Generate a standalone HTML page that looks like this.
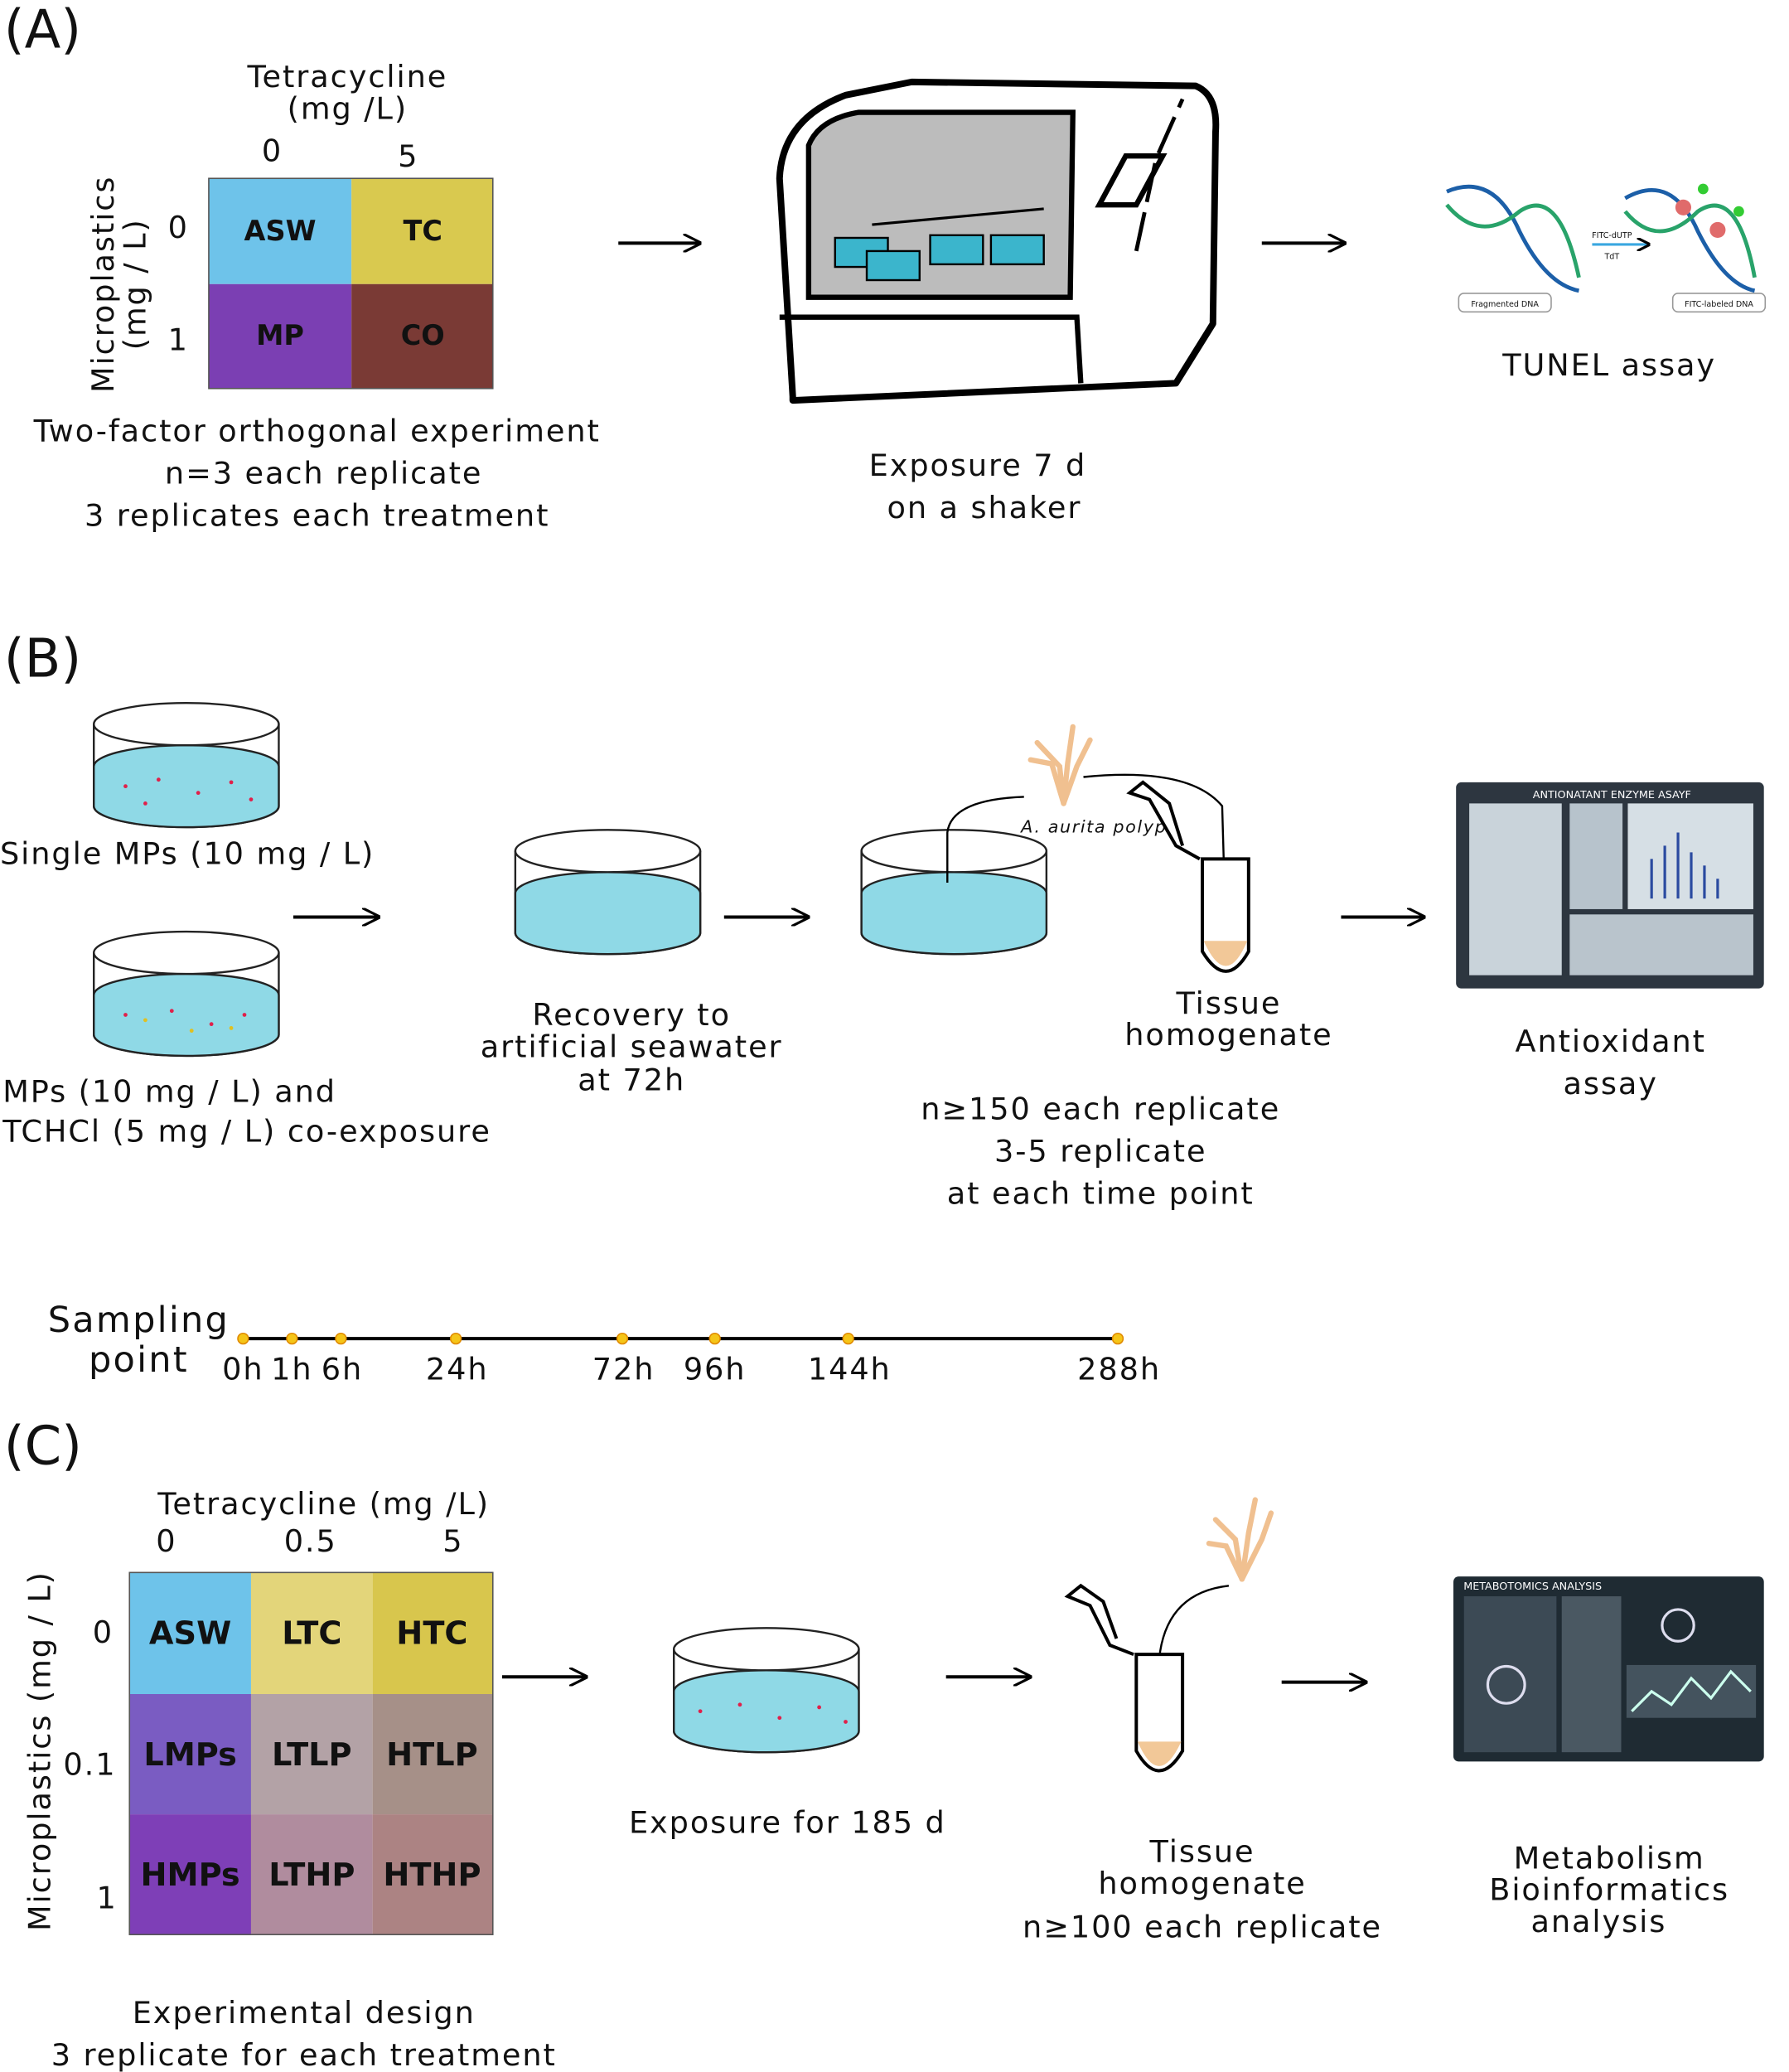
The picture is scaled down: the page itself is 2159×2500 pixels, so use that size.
<!DOCTYPE html>
<html><head><meta charset="utf-8"><style>
html,body{margin:0;padding:0;background:#fff}
svg{display:block}
text{font-family:"DejaVu Sans","Liberation Sans",sans-serif;fill:#111}
.t{font-size:23px;letter-spacing:1.2px;text-anchor:middle}
.b{font-weight:bold;text-anchor:middle;font-size:21px}
.bc{font-weight:bold;text-anchor:middle;font-size:24px}
.h{font-size:40px}
</style></head><body>
<svg width="2159" height="2500" viewBox="0 0 1354 1568" preserveAspectRatio="none" xmlns="http://www.w3.org/2000/svg">
<defs>
<marker id="ar" markerWidth="10" markerHeight="10" refX="9" refY="5" orient="auto" markerUnits="userSpaceOnUse"><path d="M0,0 L10,5 L0,10" fill="none" stroke="#000" stroke-width="2"/></marker>
<marker id="ar2" markerWidth="14" markerHeight="14" refX="13" refY="7" orient="auto" markerUnits="userSpaceOnUse"><path d="M0,0 L14,7 L0,14" fill="none" stroke="#000" stroke-width="2"/></marker>
</defs>

<!-- (A) -->
<text x="3" y="36" class="h">(A)</text>
<text x="263" y="66" class="t">Tetracycline</text>
<text x="263" y="90" class="t">(mg /L)</text>
<text x="206" y="122" class="t">0</text>
<text x="309" y="126" class="t">5</text>
<rect x="158" y="135" width="108" height="80" fill="#6ec3ea"/>
<rect x="266" y="135" width="107" height="80" fill="#d9c94f"/>
<rect x="158" y="215" width="108" height="79" fill="#7b3fb3"/>
<rect x="266" y="215" width="107" height="79" fill="#7a3a35"/>
<rect x="158" y="135" width="215" height="159" fill="none" stroke="#555" stroke-width="1"/>
<text x="212" y="182" class="b">ASW</text>
<text x="320" y="182" class="b">TC</text>
<text x="212" y="261" class="b">MP</text>
<text x="320" y="261" class="b">CO</text>
<text transform="translate(86,215) rotate(-90)" class="t">Microplastics</text>
<text transform="translate(110,215) rotate(-90)" class="t">(mg / L)</text>
<text x="135" y="180" class="t">0</text>
<text x="135" y="265" class="t">1</text>
<text x="240" y="334" class="t">Two-factor orthogonal experiment</text>
<text x="245" y="366" class="t">n=3 each replicate</text>
<text x="240" y="398" class="t">3 replicates each treatment</text>
<line x1="468" y1="184" x2="530" y2="184" stroke="#000" stroke-width="2.5" marker-end="url(#ar2)"/>

<!-- shaker -->
<path d="M600,300 L590,135 Q592,90 640,72 L690,62 L905,65 Q922,72 920,100 L918,245 L890,290 L600,303 Z" fill="#fff" stroke="#000" stroke-width="5" stroke-linejoin="round"/>
<path d="M590,240 L815,240 L818,290" fill="none" stroke="#000" stroke-width="4"/>
<path d="M612,225 L612,110 Q620,90 650,85 L812,85 L810,225 Z" fill="#bcbcbc" stroke="#000" stroke-width="4"/>
<path d="M832,155 L852,118 L880,118 L860,155 Z" fill="none" stroke="#000" stroke-width="4"/>
<path d="M860,190 L875,120 L895,75" fill="none" stroke="#000" stroke-width="3" stroke-dasharray="30,8"/>
<g stroke="#000" stroke-width="1.5">
<rect x="632" y="180" width="40" height="22" fill="#3bb5cc"/><rect x="656" y="190" width="40" height="22" fill="#3bb5cc"/>
<rect x="704" y="178" width="40" height="22" fill="#3bb5cc"/><rect x="750" y="178" width="40" height="22" fill="#3bb5cc"/>
</g>
<line x1="660" y1="170" x2="790" y2="158" stroke="#000" stroke-width="2"/>
<text x="740" y="360" class="t">Exposure 7 d</text>
<text x="745" y="392" class="t">on a shaker</text>
<line x1="955" y1="184" x2="1018" y2="184" stroke="#000" stroke-width="2.5" marker-end="url(#ar2)"/>

<!-- TUNEL -->
<path d="M1095,145 Q1130,130 1150,175 Q1170,215 1195,220" fill="none" stroke="#1c5fa8" stroke-width="3"/>
<path d="M1095,155 Q1120,185 1150,160 Q1180,140 1195,210" fill="none" stroke="#29a36a" stroke-width="3"/>
<path d="M1230,150 Q1265,130 1285,175 Q1305,215 1328,220" fill="none" stroke="#1c5fa8" stroke-width="3"/>
<path d="M1230,160 Q1255,190 1285,160 Q1315,140 1328,210" fill="none" stroke="#29a36a" stroke-width="3"/>
<circle cx="1274" cy="157" r="6" fill="#e06b6b"/><circle cx="1300" cy="174" r="6" fill="#e06b6b"/>
<circle cx="1289" cy="143" r="4" fill="#3c3"/><circle cx="1316" cy="160" r="4" fill="#3c3"/>
<line x1="1205" y1="185" x2="1248" y2="185" stroke="#3aa7e0" stroke-width="2" marker-end="url(#ar)"/>
<text x="1220" y="180" font-size="6" text-anchor="middle">FITC-dUTP</text>
<text x="1220" y="196" font-size="6" text-anchor="middle">TdT</text>
<rect x="1104" y="222" width="70" height="14" rx="4" fill="#fff" stroke="#999"/>
<text x="1139" y="232" font-size="6" text-anchor="middle">Fragmented DNA</text>
<rect x="1266" y="222" width="70" height="14" rx="4" fill="#fff" stroke="#999"/>
<text x="1301" y="232" font-size="6" text-anchor="middle">FITC-labeled DNA</text>
<text x="1218" y="284" class="t">TUNEL assay</text>

<!-- (B) -->
<text x="3" y="512" class="h">(B)</text>
<g id="dish">
<path d="M71,548 L71,610 A70,16 0 0 0 211,610 L211,548" fill="#fff" stroke="#222" stroke-width="1.5"/>
<path d="M71,580 A70,16 0 0 1 211,580 L211,610 A70,16 0 0 1 71,610 Z" fill="#8fd9e6" stroke="#222" stroke-width="1.5"/>
<ellipse cx="141" cy="548" rx="70" ry="16" fill="#fff" stroke="#222" stroke-width="1.5"/>
</g>
<g fill="#e0204a"><circle cx="95" cy="595" r="1.5"/><circle cx="120" cy="590" r="1.5"/><circle cx="150" cy="600" r="1.5"/><circle cx="175" cy="592" r="1.5"/><circle cx="190" cy="605" r="1.5"/><circle cx="110" cy="608" r="1.5"/></g>
<text x="0" y="654" font-size="23" letter-spacing="1.2">Single MPs (10 mg / L)</text>
<use href="#dish" y="173"/>
<g fill="#e0204a"><circle cx="95" cy="768" r="1.5"/><circle cx="130" cy="765" r="1.5"/><circle cx="160" cy="775" r="1.5"/><circle cx="185" cy="768" r="1.5"/></g>
<g fill="#e0c020"><circle cx="110" cy="772" r="1.5"/><circle cx="145" cy="780" r="1.5"/><circle cx="175" cy="778" r="1.5"/></g>
<text x="2" y="834" font-size="23" letter-spacing="1.2">MPs (10 mg / L) and</text>
<text x="2" y="864" font-size="23" letter-spacing="1.2">TCHCl (5 mg / L) co-exposure</text>
<line x1="222" y1="694" x2="287" y2="694" stroke="#000" stroke-width="2.5" marker-end="url(#ar2)"/>
<use href="#dish" x="319" y="96"/>
<text x="478" y="776" class="t">Recovery to</text>
<text x="478" y="800" class="t">artificial seawater</text>
<text x="478" y="825" class="t">at 72h</text>
<line x1="548" y1="694" x2="612" y2="694" stroke="#000" stroke-width="2.5" marker-end="url(#ar2)"/>
<use href="#dish" x="581" y="96"/>
<path d="M717,668 L717,630 Q720,605 775,603" fill="none" stroke="#000" stroke-width="1.5"/>
<g stroke="#f0c090" stroke-width="4" fill="none" stroke-linecap="round">
<path d="M805,608 L802,580 L785,562"/><path d="M805,608 L808,578 L812,550"/><path d="M805,608 L815,580 L825,560"/><path d="M805,608 L796,578 L780,575"/></g>
<text x="828" y="630" font-size="13" font-style="italic" text-anchor="middle" letter-spacing="1">A. aurita polyp</text>
<path d="M820,588 Q900,580 925,610 L928,715" fill="none" stroke="#000" stroke-width="1.5" marker-end="url(#ar)"/>
<path d="M910,650 L910,720 Q928,750 945,720 L945,650 Z" fill="#fff" stroke="#000" stroke-width="2.5"/>
<path d="M911,712 Q928,750 944,712 Z" fill="#f2c898"/>
<path d="M908,650 L890,640 L870,605 L855,600 L865,592 L885,608 L895,640" fill="none" stroke="#000" stroke-width="2.5"/>
<text x="930" y="767" class="t">Tissue</text>
<text x="930" y="791" class="t">homogenate</text>
<text x="833" y="847" class="t">n≥150 each replicate</text>
<text x="833" y="879" class="t">3-5  replicate</text>
<text x="833" y="911" class="t">at each time point</text>
<line x1="1015" y1="694" x2="1078" y2="694" stroke="#000" stroke-width="2.5" marker-end="url(#ar2)"/>
<rect x="1102" y="592" width="233" height="156" rx="4" fill="#2d3640"/>
<rect x="1112" y="608" width="70" height="130" fill="#c9d3da"/>
<rect x="1188" y="608" width="40" height="80" fill="#b7c3cc"/>
<rect x="1232" y="608" width="95" height="80" fill="#d6dfe5"/>
<rect x="1188" y="692" width="139" height="46" fill="#b9c4cc"/>
<g stroke="#2a4aa0" stroke-width="2"><line x1="1250" y1="680" x2="1250" y2="650"/><line x1="1260" y1="680" x2="1260" y2="640"/><line x1="1270" y1="680" x2="1270" y2="630"/><line x1="1280" y1="680" x2="1280" y2="645"/><line x1="1290" y1="680" x2="1290" y2="655"/><line x1="1300" y1="680" x2="1300" y2="665"/></g>
<text x="1220" y="604" font-size="8" text-anchor="middle" style="fill:#fff">ANTIONATANT ENZYME ASAYF</text>
<text x="1219" y="796" class="t">Antioxidant</text>
<text x="1219" y="828" class="t">assay</text>

<!-- timeline -->
<text x="105" y="1008" font-size="27" text-anchor="middle" letter-spacing="1.4">Sampling</text>
<text x="105" y="1038" font-size="27" text-anchor="middle" letter-spacing="1.4">point</text>
<line x1="183" y1="1013" x2="847" y2="1013" stroke="#000" stroke-width="2.5"/>
<g fill="#f5c518" stroke="#e08a00" stroke-width="1">
<circle cx="184" cy="1013" r="4"/><circle cx="221" cy="1013" r="4"/><circle cx="258" cy="1013" r="4"/><circle cx="345" cy="1013" r="4"/><circle cx="471" cy="1013" r="4"/><circle cx="541" cy="1013" r="4"/><circle cx="642" cy="1013" r="4"/><circle cx="846" cy="1013" r="4"/></g>
<text x="184" y="1044" class="t">0h</text><text x="221" y="1044" class="t">1h</text><text x="259" y="1044" class="t">6h</text><text x="346" y="1044" class="t">24h</text><text x="472" y="1044" class="t">72h</text><text x="541" y="1044" class="t">96h</text><text x="643" y="1044" class="t">144h</text><text x="847" y="1044" class="t">288h</text>

<!-- (C) -->
<text x="3" y="1108" class="h">(C)</text>
<text x="245" y="1146" class="t">Tetracycline (mg /L)</text>
<text x="126" y="1174" class="t">0</text><text x="235" y="1174" class="t">0.5</text><text x="343" y="1174" class="t">5</text>
<rect x="98" y="1190" width="92" height="92" fill="#6ec3ea"/>
<rect x="190" y="1190" width="92" height="92" fill="#e3d57a"/>
<rect x="282" y="1190" width="91" height="92" fill="#d8c64d"/>
<rect x="98" y="1282" width="92" height="91" fill="#7a5cc2"/>
<rect x="190" y="1282" width="92" height="91" fill="#b3a2a6"/>
<rect x="282" y="1282" width="91" height="91" fill="#a69088"/>
<rect x="98" y="1373" width="92" height="91" fill="#7e3fb7"/>
<rect x="190" y="1373" width="92" height="91" fill="#b08c9e"/>
<rect x="282" y="1373" width="91" height="91" fill="#ac8383"/>
<rect x="98" y="1190" width="275" height="274" fill="none" stroke="#555" stroke-width="1"/>
<text x="144" y="1244" class="bc">ASW</text><text x="236" y="1244" class="bc">LTC</text><text x="327" y="1244" class="bc">HTC</text>
<text x="144" y="1336" class="bc">LMPs</text><text x="236" y="1336" class="bc">LTLP</text><text x="327" y="1336" class="bc">HTLP</text>
<text x="144" y="1427" class="bc">HMPs</text><text x="236" y="1427" class="bc">LTHP</text><text x="327" y="1427" class="bc">HTHP</text>
<text transform="translate(38,1325) rotate(-90)" class="t">Microplastics (mg / L)</text>
<text x="78" y="1243" class="t">0</text><text x="68" y="1343" class="t">0.1</text><text x="81" y="1444" class="t">1</text>
<text x="230" y="1531" class="t">Experimental design</text>
<text x="230" y="1563" class="t">3 replicate for each treatment</text>
<line x1="380" y1="1269" x2="444" y2="1269" stroke="#000" stroke-width="2.5" marker-end="url(#ar2)"/>
<use href="#dish" x="439" y="700"/>
<g fill="#e0204a"><circle cx="530" cy="1295" r="1.5"/><circle cx="560" cy="1290" r="1.5"/><circle cx="590" cy="1300" r="1.5"/><circle cx="620" cy="1292" r="1.5"/><circle cx="640" cy="1303" r="1.5"/></g>
<text x="596" y="1387" class="t">Exposure for 185 d</text>
<line x1="716" y1="1269" x2="780" y2="1269" stroke="#000" stroke-width="2.5" marker-end="url(#ar2)"/>
<g stroke="#f0c090" stroke-width="4" fill="none" stroke-linecap="round">
<path d="M940,1195 L935,1165 L920,1150"/><path d="M940,1195 L945,1160 L950,1135"/><path d="M940,1195 L955,1165 L962,1145"/><path d="M940,1195 L928,1170 L915,1168"/></g>
<path d="M930,1200 Q885,1205 878,1250 L876,1310" fill="none" stroke="#000" stroke-width="1.5" marker-end="url(#ar)"/>
<path d="M860,1252 L860,1325 Q877,1355 895,1325 L895,1252 Z" fill="#fff" stroke="#000" stroke-width="2.5"/>
<path d="M861,1318 Q877,1355 894,1318 Z" fill="#f2c898"/>
<path d="M858,1252 L840,1245 L825,1215 L808,1208 L818,1200 L835,1212 L845,1240" fill="none" stroke="#000" stroke-width="2.5"/>
<text x="910" y="1409" class="t">Tissue</text>
<text x="910" y="1433" class="t">homogenate</text>
<text x="910" y="1466" class="t">n≥100 each replicate</text>
<line x1="970" y1="1273" x2="1034" y2="1273" stroke="#000" stroke-width="2.5" marker-end="url(#ar2)"/>
<rect x="1100" y="1193" width="235" height="140" rx="4" fill="#1f2b33"/>
<rect x="1108" y="1208" width="70" height="118" fill="#3c4a55"/>
<rect x="1182" y="1208" width="45" height="118" fill="#4a5862"/>
<rect x="1231" y="1260" width="98" height="40" fill="#44535e"/>
<path d="M1235,1295 L1250,1280 L1265,1290 L1280,1270 L1295,1285 L1310,1265 L1325,1280" fill="none" stroke="#cfe" stroke-width="2"/>
<circle cx="1270" cy="1230" r="12" fill="none" stroke="#dde" stroke-width="2"/>
<circle cx="1140" cy="1275" r="14" fill="none" stroke="#dde" stroke-width="2"/>
<text x="1160" y="1203" font-size="8" text-anchor="middle" style="fill:#fff">METABOTOMICS ANALYSIS</text>
<text x="1218" y="1414" class="t">Metabolism</text>
<text x="1218" y="1438" class="t">Bioinformatics</text>
<text x="1210" y="1462" class="t">analysis</text>
</svg>
</body></html>
